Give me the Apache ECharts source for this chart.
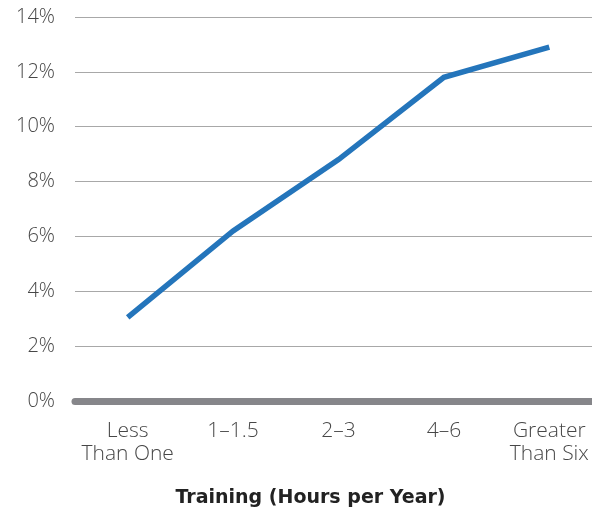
<!DOCTYPE html>
<html>
<head>
<meta charset="utf-8">
<script src="https://cdn.jsdelivr.net/npm/echarts@6/dist/echarts.min.js"></script>
<style>
  html, body { margin: 0; padding: 0; background: #fff; }
  #chart { width: 592px; height: 509px; }
</style>
</head>
<body>
<div id="chart"></div>
<script>
// Training hours per year and the matching percentage values
const categories = ['Less\nThan One', '1–1.5', '2–3', '4–6', 'Greater\nThan Six'];
const values = [3.05, 6.2, 8.8, 11.8, 12.9];
const yTicks = [0, 2, 4, 6, 8, 10, 12, 14];
const xAxisTitle = 'Training (Hours per Year)';

const chart = echarts.init(document.getElementById('chart'), null, { renderer: 'canvas' });

chart.setOption({
  backgroundColor: '#ffffff',
  animation: false,
  grid: { left: 75, top: 17, width: 527, height: 384, containLabel: false, outerBoundsMode: 'none' },
  xAxis: {
    type: 'category',
    data: categories,
    boundaryGap: true,
    name: xAxisTitle,
    nameLocation: 'middle',
    nameGap: 88,
    nameTextStyle: {
      fontFamily: 'DejaVu Sans',
      fontWeight: 'bold',
      fontSize: 19,
      color: '#222',
      padding: [0, 0, 0, -56]
    },
    axisLine: { show: true, lineStyle: { color: '#86868a', width: 7 } },
    axisTick: { show: false },
    axisLabel: {
      interval: 0,
      fontFamily: 'Open Sans',
      fontWeight: 300,
      fontSize: 21,
      color: '#474747',
      lineHeight: 23,
      margin: 19
    }
  },
  yAxis: {
    type: 'value',
    min: yTicks[0],
    max: yTicks[yTicks.length - 1],
    interval: 2,
    axisLine: { show: false },
    axisTick: { show: false },
    splitLine: { lineStyle: { color: '#a8a8a8', width: 1 } },
    axisLabel: {
      formatter: v => v + '%',
      fontFamily: 'Open Sans',
      fontWeight: 300,
      fontSize: 20,
      color: '#474747',
      margin: 20
    }
  },
  series: [{
    type: 'line',
    data: values,
    symbol: 'none',
    lineStyle: { color: '#2475bb', width: 5.5, cap: 'butt', join: 'miter' },
    z: 3
  }]
});
</script>
</body>
</html>
